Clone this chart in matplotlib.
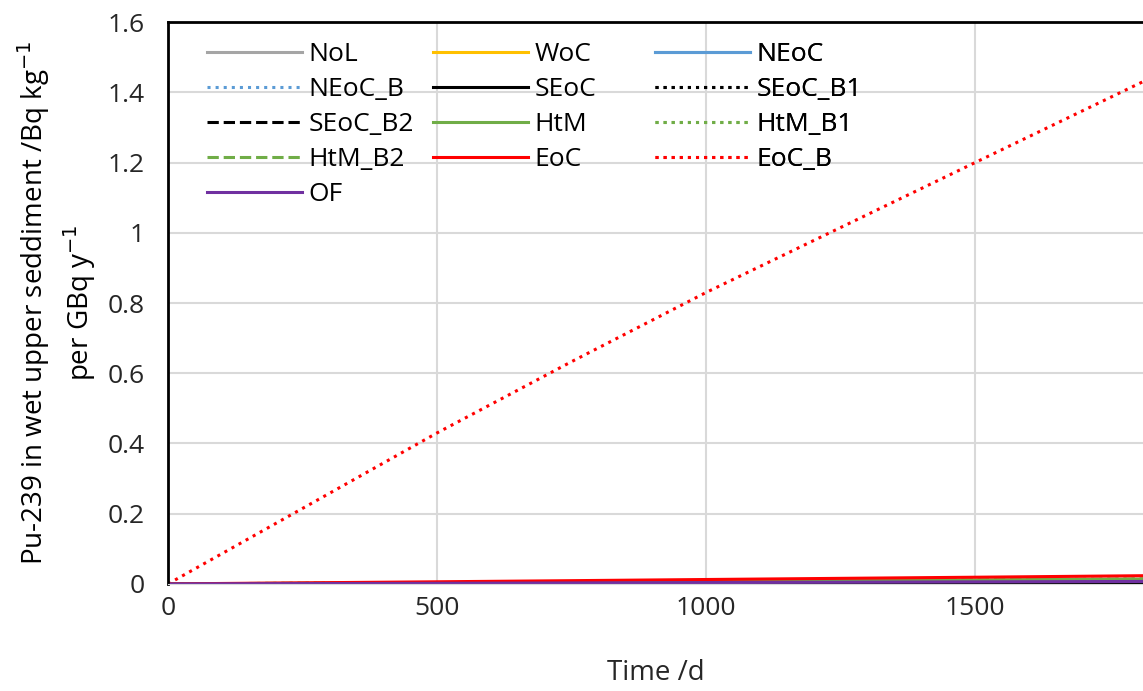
import matplotlib.pyplot as plt

plt.rcParams['font.family'] = ['Open Sans', 'DejaVu Sans']

# time axis (days)
times = [0, 250, 500, 750, 1000, 1250, 1500, 1825]

# Pu-239 in wet upper sediment, Bq/kg per GBq/y
NoL     = [0, 0.0003, 0.0006, 0.0009, 0.0012, 0.0015, 0.0018, 0.0022]
WoC     = [0, 0.0003, 0.0006, 0.0009, 0.0012, 0.0015, 0.0018, 0.0022]
NEoC    = [0, 0.0004, 0.0008, 0.0012, 0.0016, 0.0020, 0.0024, 0.0029]
NEoC_B  = [0, 0.0004, 0.0008, 0.0012, 0.0016, 0.0020, 0.0024, 0.0029]
SEoC    = [0, 0.0003, 0.0007, 0.0010, 0.0014, 0.0017, 0.0021, 0.0025]
SEoC_B1 = [0, 0.0003, 0.0007, 0.0010, 0.0014, 0.0017, 0.0021, 0.0025]
SEoC_B2 = [0, 0.0003, 0.0007, 0.0010, 0.0014, 0.0017, 0.0021, 0.0025]
HtM     = [0, 0.0018, 0.0036, 0.0055, 0.0075, 0.0095, 0.0115, 0.0140]
HtM_B1  = [0, 0.0018, 0.0036, 0.0055, 0.0075, 0.0095, 0.0115, 0.0140]
HtM_B2  = [0, 0.0018, 0.0036, 0.0055, 0.0075, 0.0095, 0.0115, 0.0140]
EoC     = [0, 0.0030, 0.0060, 0.0092, 0.0125, 0.0158, 0.0190, 0.0235]
EoC_B   = [0, 0.2150, 0.4300, 0.6330, 0.8300, 1.0150, 1.2000, 1.4400]
OF      = [0, 0.0009, 0.0018, 0.0028, 0.0038, 0.0048, 0.0058, 0.0070]

series = [
    ('NoL', NoL, '#A5A5A5', '-'),
    ('WoC', WoC, '#FFC000', '-'),
    ('NEoC', NEoC, '#5B9BD5', '-'),
    ('NEoC_B', NEoC_B, '#5B9BD5', ':'),
    ('SEoC', SEoC, 'black', '-'),
    ('SEoC_B1', SEoC_B1, 'black', ':'),
    ('SEoC_B2', SEoC_B2, 'black', '--'),
    ('HtM', HtM, '#70AD47', '-'),
    ('HtM_B1', HtM_B1, '#70AD47', ':'),
    ('HtM_B2', HtM_B2, '#70AD47', '--'),
    ('EoC', EoC, '#FF0000', '-'),
    ('EoC_B', EoC_B, '#FF0000', ':'),
    ('OF', OF, '#7030A0', '-'),
]

fig = plt.figure(figsize=(11.43, 6.91), dpi=100)
ax = fig.add_axes([0.147, 0.155, 0.853, 0.813])

lines = {}
for name, vals, col, ls in series:
    l, = ax.plot(times, vals, color=col, linestyle=ls, linewidth=2.2, label=name)
    lines[name] = l

ax.set_xlim(0, 1812)
ax.set_ylim(0, 1.6)
ax.set_xticks([0, 500, 1000, 1500])
ax.set_yticks([0, 0.2, 0.4, 0.6, 0.8, 1.0, 1.2, 1.4, 1.6])
ax.set_yticklabels(['0', '0.2', '0.4', '0.6', '0.8', '1', '1.2', '1.4', '1.6'])
ax.tick_params(length=0, labelsize=19, colors='#262626')
ax.tick_params(axis='y', pad=17)
ax.tick_params(axis='x', pad=9)
ax.grid(True, color='#D9D9D9', linewidth=1.5)
ax.set_axisbelow(True)

ax.spines['right'].set_visible(False)
ax.spines['left'].set_linewidth(2)
ax.spines['top'].set_linewidth(2)
ax.spines['bottom'].set_color('#D9D9D9')

ax.set_xlabel('Time /d', fontsize=20, color='#262626', labelpad=27)
ax.set_ylabel('Pu-239 in wet upper seddiment /Bq kg$^{-1}$\nper GBq y$^{-1}$',
              fontsize=20, color='black', labelpad=7, linespacing=1.3)

# legend laid out row by row in three fixed-width columns, like the original
columns = [['NoL', 'NEoC_B', 'SEoC_B2', 'HtM_B2', 'OF'],
           ['WoC', 'SEoC', 'HtM', 'EoC'],
           ['NEoC', 'SEoC_B1', 'HtM_B1', 'EoC_B']]
col_x = [0.040, 0.272, 0.4995]
for names, x in zip(columns, col_x):
    leg = ax.legend([lines[n] for n in names], names, frameon=False,
                    loc='upper left', bbox_to_anchor=(x, 0.964),
                    fontsize=19, handlelength=3.6, labelspacing=0.38,
                    handletextpad=0.25, borderaxespad=0, borderpad=0)
    ax.add_artist(leg)

fig.savefig('out.png', dpi=100)
